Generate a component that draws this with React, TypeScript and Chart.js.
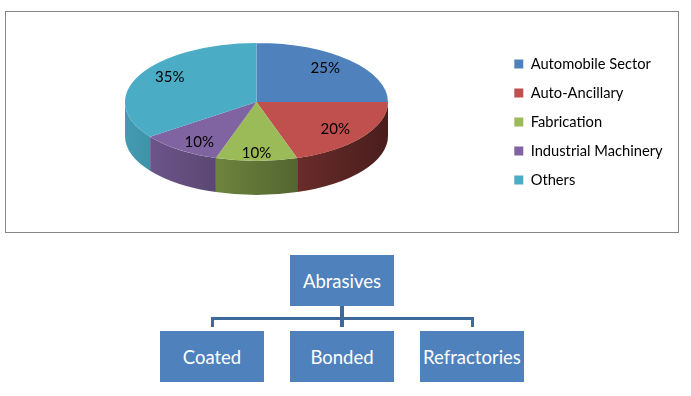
import React, { useEffect, useRef } from "react";
import { Chart, registerables } from "chart.js";

Chart.register(...registerables);

// ---- data ----
const categories = ["Automobile Sector", "Auto-Ancillary", "Fabrication", "Industrial Machinery", "Others"];
const shares = [25, 20, 10, 10, 35];
const sliceColors = ["#4F81BD", "#C0504D", "#9BBB59", "#8064A2", "#4BACC6"];
const rootLabel = "Abrasives";
const childLabels = ["Coated", "Bonded", "Refractories"];

// ---- layout / style ----
const FONT = "Lato, 'Open Sans', sans-serif";
const PIE = {
  cx: 250.5,
  cy: 90,
  rx: 131.5,
  ry: 59,
  depth: 34,
  labelRadius: 0.74,
  labelApexY: 83,
  labelRyBack: 52,
  labelRyFront: 78,
};
const LEGEND_LEFT = 494;

function shade(hex: string, f: number) {
  const n = parseInt(hex.slice(1), 16);
  const r = Math.round(((n >> 16) & 255) * f);
  const g = Math.round(((n >> 8) & 255) * f);
  const b = Math.round((n & 255) * f);
  return `rgb(${r},${g},${b})`;
}

let transformed = false;

const pie3d = {
  id: "pie3d",
  afterLayout(chart: any) {
    const lg = chart.legend;
    if (lg) {
      const w = lg.width;
      lg.left = LEGEND_LEFT;
      lg.right = LEGEND_LEFT + w;
    }
  },
  beforeDatasetsDraw(chart: any) {
    const ctx: CanvasRenderingContext2D = chart.ctx;
    const arcs = chart.getDatasetMeta(0).data as any[];
    transformed = false;
    if (!arcs.length) return;
    const { cx, cy, rx, ry, depth } = PIE;
    arcs.forEach((arc, i) => {
      const a0 = Math.max(arc.startAngle, 0);
      const a1 = Math.min(arc.endAngle, Math.PI);
      if (a1 <= a0) return;
      const col = sliceColors[i];
      const g = ctx.createLinearGradient(cx - rx, 0, cx + rx, 0);
      g.addColorStop(0, shade(col, 0.9));
      g.addColorStop(0.5, shade(col, 0.62));
      g.addColorStop(1, shade(col, 0.38));
      ctx.beginPath();
      ctx.ellipse(cx, cy, rx, ry, 0, a0, a1, false);
      ctx.ellipse(cx, cy + depth, rx, ry, 0, a1, a0, true);
      ctx.closePath();
      ctx.fillStyle = g;
      ctx.fill();
    });
    const R = arcs[0].outerRadius;
    ctx.save();
    ctx.translate(cx, cy);
    ctx.scale(rx / R, ry / R);
    ctx.translate(-arcs[0].x, -arcs[0].y);
    transformed = true;
  },
  afterDatasetsDraw(chart: any) {
    const ctx: CanvasRenderingContext2D = chart.ctx;
    if (transformed) ctx.restore();
    transformed = false;
    const arcs = chart.getDatasetMeta(0).data as any[];
    const { cx, rx, labelRadius, labelApexY, labelRyBack, labelRyFront } = PIE;
    ctx.save();
    ctx.fillStyle = "#000";
    ctx.font = `15px ${FONT}`;
    ctx.textAlign = "center";
    ctx.textBaseline = "middle";
    arcs.forEach((arc, i) => {
      const mid = (arc.startAngle + arc.endAngle) / 2;
      const s = Math.sin(mid);
      const x = cx + rx * labelRadius * Math.cos(mid);
      const y = labelApexY + (s > 0 ? labelRyFront : labelRyBack) * labelRadius * s;
      ctx.fillText(`${shares[i]}%`, x, y);
    });
    ctx.restore();
  },
};

const NODE_FILL = "#4F81BD";
const LINE = "#3D6A9A";

function Node({ label, left, top }: { label: string; left: number; top: number }) {
  return (
    <div
      style={{
        position: "absolute",
        left,
        top,
        width: 104,
        height: 51,
        background: NODE_FILL,
        color: "#fff",
        fontSize: 18.5,
        display: "flex",
        alignItems: "center",
        justifyContent: "center",
        whiteSpace: "nowrap",
      }}
    >
      {label}
    </div>
  );
}

function Bar({ left, top, width, height }: { left: number; top: number; width: number; height: number }) {
  return <div style={{ position: "absolute", left, top, width, height, background: LINE }} />;
}

export default function App() {
  const ref = useRef<HTMLCanvasElement>(null);
  useEffect(() => {
    const chart = new Chart(ref.current!, {
      type: "pie",
      data: {
        labels: categories,
        datasets: [{ data: shares, backgroundColor: sliceColors, borderWidth: 0 }],
      },
      options: {
        responsive: false,
        animation: false,
        events: [],
        layout: { padding: 0 },
        plugins: {
          legend: {
            position: "right",
            labels: {
              boxWidth: 9,
              boxHeight: 9,
              padding: 14.3,
              color: "#000",
              font: { family: FONT, size: 14.7 },
            },
          },
          tooltip: { enabled: false },
        },
      } as any,
      plugins: [pie3d as any],
    });
    return () => chart.destroy();
  }, []);

  const childLefts = [160, 290, 420];
  return (
    <div style={{ position: "absolute", left: 0, top: 0, width: 691, height: 396, background: "#fff", fontFamily: FONT }}>
      <div
        style={{
          position: "absolute",
          left: 5,
          top: 11,
          width: 674,
          height: 222,
          border: "1px solid #868686",
          boxSizing: "border-box",
        }}
      >
        <canvas ref={ref} width={672} height={220} style={{ display: "block", width: 672, height: 220 }} />
      </div>
      <Node label={rootLabel} left={290} top={255} />
      <Bar left={340} top={306} width={4} height={21} />
      <Bar left={211} top={317} width={263} height={3} />
      <Bar left={211} top={317} width={3} height={10} />
      <Bar left={471} top={317} width={3} height={10} />
      {childLabels.map((c, i) => (
        <Node key={c} label={c} left={childLefts[i]} top={331} />
      ))}
    </div>
  );
}
